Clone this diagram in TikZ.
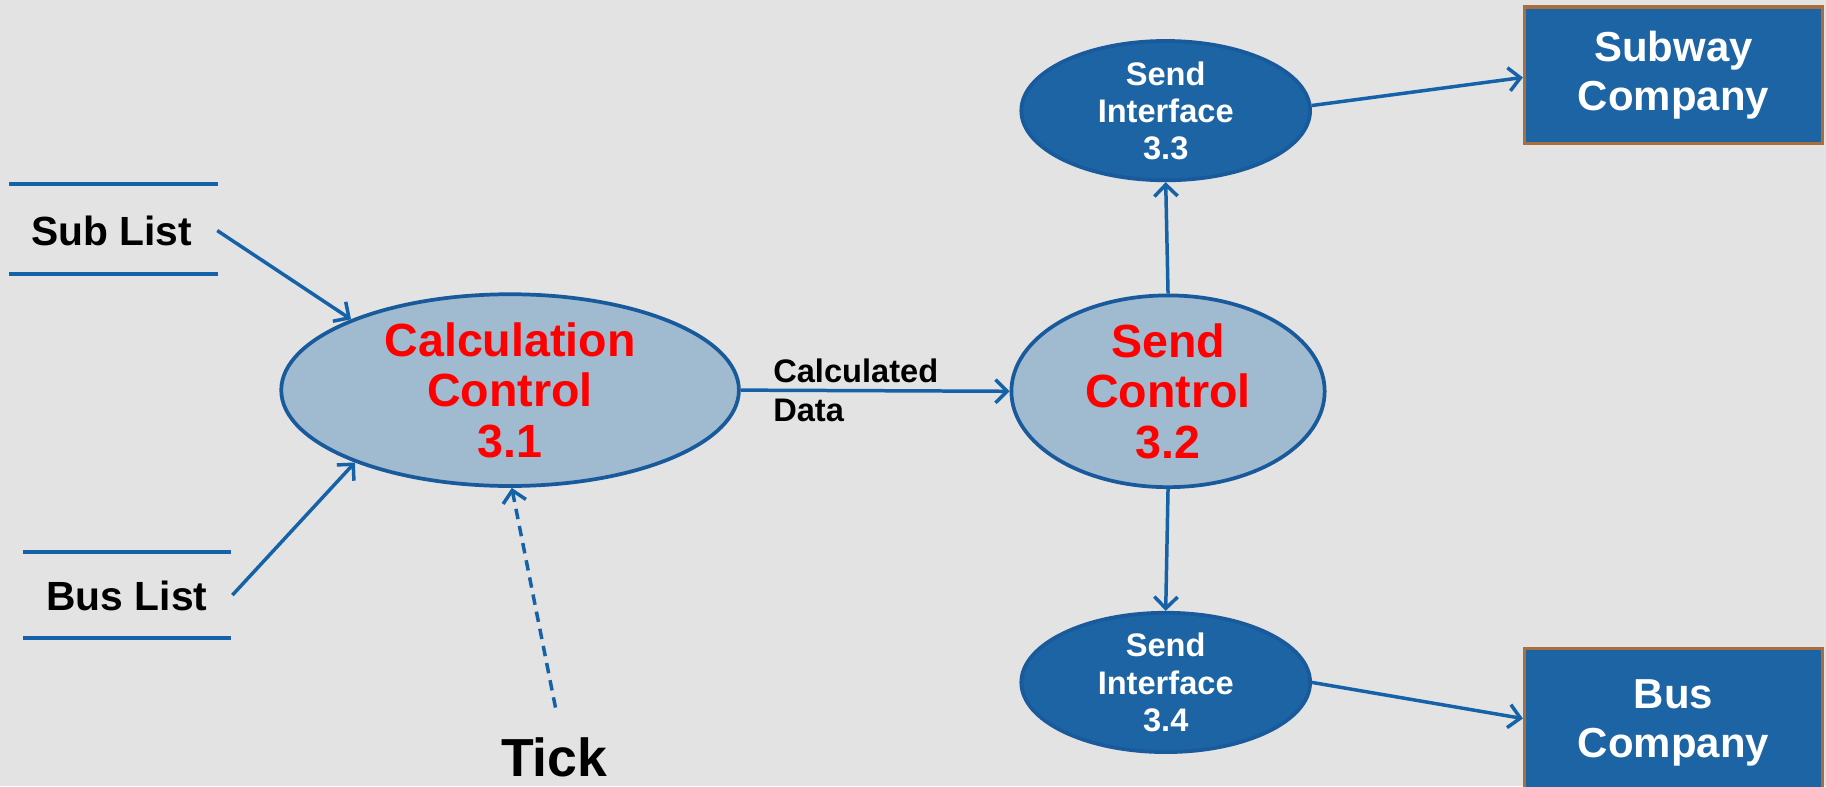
\documentclass[tikz,border=0pt]{standalone}
\usepackage{fontspec}
\setmainfont{Liberation Sans}
\usetikzlibrary{shapes.geometric,arrows.meta}
\definecolor{bg}{RGB}{227,227,227}
\definecolor{lineblue}{RGB}{22,98,168}
\definecolor{edgeblue}{RGB}{24,90,155}
\definecolor{lightfill}{RGB}{160,186,208}
\definecolor{darkfill}{RGB}{28,100,164}
\definecolor{brownedge}{RGB}{168,110,62}
\definecolor{redtext}{RGB}{255,0,0}
\tikzset{
  flow/.style={draw=lineblue, line width=3pt, -{Straight Barb[length=10pt,width=20pt,line width=3pt]}},
  storeline/.style={draw=lineblue, line width=3.2pt},
  bigproc/.style={ellipse, draw=edgeblue, line width=3.2pt, fill=lightfill, inner sep=0pt,
    text=redtext, align=center, font=\bfseries\fontsize{40}{43.5}\selectfont},
  smallproc/.style={ellipse, draw=edgeblue, line width=3.2pt, fill=darkfill, inner sep=0pt,
    minimum width=248pt, minimum height=110pt,
    text=white, align=center, font=\bfseries\fontsize{28}{32}\selectfont},
  extbox/.style={rectangle, draw=brownedge, line width=2.6pt, fill=darkfill, inner sep=0pt,
    minimum width=256pt, minimum height=117pt,
    text=white, align=center, font=\bfseries\fontsize{36}{42}\selectfont},
  storelabel/.style={font=\bfseries\fontsize{35}{40}\selectfont, text=black},
}
\begin{document}
\begin{tikzpicture}[x=1pt,y=-1pt]
\fill[bg] (0,0) rectangle (1568,675);
\useasboundingbox (0,0) rectangle (1568,675);

% data stores
\draw[storeline] (8,158) -- (187,158);
\draw[storeline] (8,235) -- (187,235);
\node[storelabel] (sublist) at (96,198) {Sub List};
\draw[storeline] (20,474) -- (198,474);
\draw[storeline] (20,548) -- (198,548);
\node[storelabel] (buslist) at (109,512) {Bus List};

% processes
\node[bigproc, minimum width=393pt, minimum height=159pt] (calc) at (438,335)
  {Calculation\\Control\\3.1};
\node[bigproc, minimum width=269pt, minimum height=148pt] (sendc) at (1003,336)
  {Send\\Control\\3.2};
\node[smallproc] (si33) at (1001,95) {Send\\Interface\\3.3};
\node[smallproc] (si34) at (1001,586) {Send\\Interface\\3.4};

% externals
\node[extbox] (subway) at (1437,64.5) {Subway\\Company};
\node[extbox, minimum height=128pt] (bus) at (1437,621) {Bus\\Company};

% tick
\node[font=\bfseries\fontsize{46}{50}\selectfont] (tick) at (476,650) {Tick};

% flows
\draw[flow] ([xshift=18pt,yshift=0pt]sublist.east) -- (calc.156);
\draw[flow] ([xshift=18pt,yshift=1pt]buslist.east) -- (calc.205);
\draw[flow, dash pattern=on 9pt off 6pt] ([xshift=1pt,yshift=22pt]tick.north) -- (calc.-89);
\draw[flow] (calc.east) -- node[pos=0.1, anchor=west, align=left, text=black,
   font=\bfseries\fontsize{28}{34}\selectfont] (cdlabel) {Calculated\\Data} (sendc.west);
\draw[flow] (sendc.north) -- (si33.south);
\draw[flow] (sendc.south) -- (si34.north);
\draw[flow] (si33.2) -- ([yshift=-2pt]subway.west);
\draw[flow] (si34.east) -- ([yshift=4pt]bus.west);
\end{tikzpicture}
\end{document}
